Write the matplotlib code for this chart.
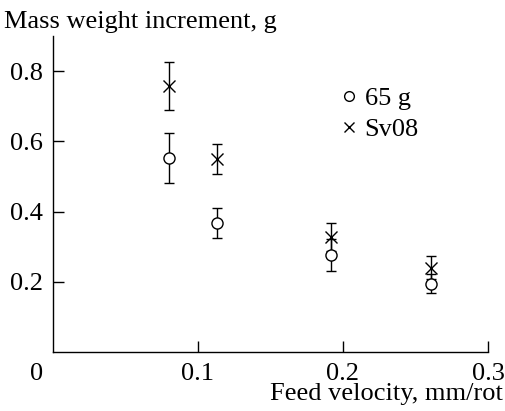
import matplotlib
matplotlib.use('Agg')
import matplotlib.pyplot as plt
from matplotlib.lines import Line2D

plt.rcParams['font.family'] = ['Liberation Serif', 'DejaVu Serif']

# feed velocity, mm/rot
feed = [0.080, 0.113, 0.192, 0.261]
# 65 g series
mass_65g = [0.552, 0.368, 0.276, 0.195]
err_65g = [0.072, 0.043, 0.045, 0.028]
# Sv08 series
mass_sv08 = [0.757, 0.550, 0.328, 0.240]
err_sv08 = [0.068, 0.043, 0.040, 0.032]

xticks = [0.1, 0.2, 0.3]
yticks = [0.2, 0.4, 0.6, 0.8]
FS = 19

fig = plt.figure(figsize=(5.06, 4.11), dpi=100)
ax = fig.add_axes([0.1047, 0.1436, 0.8597, 0.7688])

ax.errorbar(feed, mass_65g, yerr=err_65g, fmt='o', mfc='white', mec='black',
            ms=8, mew=1.0, ecolor='black', elinewidth=1.0, capsize=3.5, capthick=1.0,
            zorder=3)
ax.errorbar(feed, mass_sv08, yerr=err_sv08, fmt='x', color='black',
            ms=8, mew=1.0, ecolor='black', elinewidth=1.0, capsize=3.5, capthick=1.0,
            zorder=3)

ax.set_xlim(0, 0.3)
ax.set_ylim(0, 0.9)
ax.set_xticks(xticks)
ax.set_xticklabels(['0.1', '0.2', '0.3'])
ax.set_yticks(yticks)
ax.set_yticklabels(['0.2', '0.4', '0.6', '0.8'])
ax.tick_params(direction='in', length=8, width=1.0, labelsize=FS, colors='black')
ax.tick_params(axis='x', pad=8)
ax.tick_params(axis='y', pad=7)
ax.spines['top'].set_visible(False)
ax.spines['right'].set_visible(False)
for s in ['left', 'bottom']:
    ax.spines[s].set_linewidth(1.0)

# shared origin label
ax.text(-0.011, -0.03, '0', fontsize=FS, ha='center', va='top', clip_on=False)

# axis titles
fig.text(0.008, 0.932, 'Mass weight increment, g', fontsize=FS, ha='left', va='baseline')
fig.text(0.994, 0.026, 'Feed velocity, mm/rot', fontsize=FS, ha='right', va='baseline')

handles = [
    Line2D([], [], ls='none', marker='o', mfc='white', mec='black', ms=7, mew=1.0),
    Line2D([], [], ls='none', marker='x', color='black', ms=7, mew=1.0),
]
ax.legend(handles, ['65 g', 'Sv08'], loc='upper left', bbox_to_anchor=(0.662, 0.84),
          frameon=False, fontsize=FS, handlelength=0.6, handletextpad=0.3,
          labelspacing=0.3, borderpad=0, borderaxespad=0)

fig.savefig('out.png', dpi=100)
